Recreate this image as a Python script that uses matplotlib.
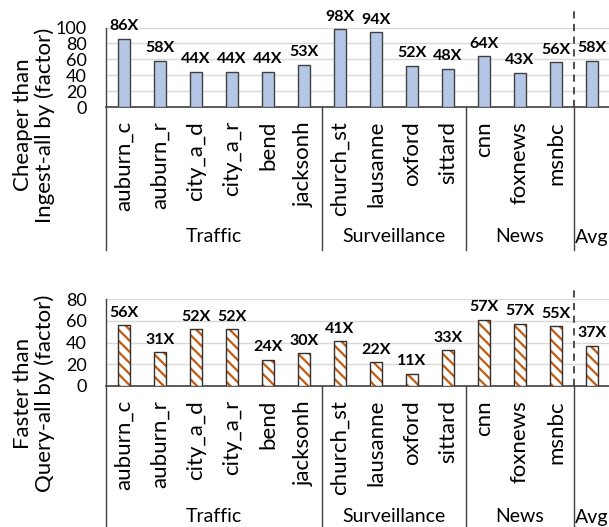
import numpy as np
import matplotlib
matplotlib.use('Agg')
import matplotlib.pyplot as plt

plt.rcParams['font.family'] = ['Lato', 'DejaVu Sans']
plt.rcParams['hatch.linewidth'] = 1.6

# Data
videos = ['auburn_c', 'auburn_r', 'city_a_d', 'city_a_r', 'bend', 'jacksonh',
          'church_st', 'lausanne', 'oxford', 'sittard',
          'cnn', 'foxnews', 'msnbc', '']
groups = ['Traffic', 'Surveillance', 'News', 'Avg']
group_sizes = [6, 4, 3, 1]

cost_vals = [86, 58, 44, 44, 44, 53, 98, 94, 52, 48, 64, 43, 56, 58]
cost_labels = ['86X', '58X', '44X', '44X', '44X', '53X', '98X', '94X', '52X', '48X',
               '64X', '43X', '56X', '58X']

speed_vals = [56, 31, 52, 52, 24, 30, 41, 22, 11, 33, 61, 57, 55, 37]
speed_labels = ['56X', '31X', '52X', '52X', '24X', '30X', '41X', '22X', '11X', '33X',
                '57X', '57X', '55X', '37X']

W, H = 609, 527
fig = plt.figure(figsize=(W / 100, H / 100), dpi=100)

x = np.arange(len(videos))
bounds = np.cumsum([0] + group_sizes) - 0.5


def panel(rect, vals, labels, ylim, yticks, ylabel, ylabel_y, hatched, sep_bottom, dash_top, group_y):
    ax = fig.add_axes(rect)
    if hatched:
        ax.bar(x, vals, width=0.32, zorder=3, color='white', edgecolor='#C55A11',
               linewidth=0, hatch='\\\\\\')
        ax.bar(x, vals, width=0.32, zorder=4, fill=False, edgecolor='#303030', linewidth=1)
    else:
        ax.bar(x, vals, width=0.32, zorder=3, color='#B4C7E7', edgecolor='#404040', linewidth=1)
    ax.set_xlim(-0.5, len(videos) - 0.5)
    ax.set_ylim(*ylim)
    ax.set_yticks(yticks)
    ax.tick_params(axis='y', length=0, pad=14, labelsize=13)
    ax.set_xticks(x)
    ax.set_xticklabels(videos, rotation=90, fontsize=16)
    ax.tick_params(axis='x', length=0, pad=10)
    ax.grid(axis='y', color='#D9D9D9', linewidth=1, zorder=0)
    for s in ['top', 'right', 'left']:
        ax.spines[s].set_visible(False)
    ax.spines['bottom'].set_color('#404040')
    ax.spines['bottom'].set_linewidth(1.2)

    for xi, v, lab in zip(x, vals, labels):
        ax.annotate(lab, (xi, v), xytext=(0, 4), textcoords='offset points',
                    ha='center', va='bottom', fontsize=11.5, fontweight='bold',
                    annotation_clip=False, zorder=5)

    tr = ax.get_xaxis_transform()
    for i, b in enumerate(bounds[:-1]):
        top = 1 if i == 0 else 0
        ax.plot([b, b], [sep_bottom, top], transform=tr, color='#404040',
                linewidth=1, clip_on=False)
    ax.plot([bounds[-2], bounds[-2]], [0, dash_top], transform=tr, color='#404040',
            linewidth=1.3, linestyle=(0, (4, 3)), clip_on=False)

    for g, lo, hi in zip(groups, bounds[:-1], bounds[1:]):
        ax.text((lo + hi) / 2, group_y, g, transform=tr, ha='center', va='center',
                fontsize=14)

    fig.text(0.056, ylabel_y, ylabel, rotation=90, ha='center', va='center',
             fontsize=16, linespacing=1.1)
    return ax


# top panel: y=0 at 107px, y=100 at 27.5px
panel([106 / W, (H - 107) / H, 504 / W, 79.5 / H], cost_vals, cost_labels,
      (0, 100), [0, 20, 40, 60, 80, 100],
      'Cheaper than\nIngest-all by (factor)', (H - 125) / H, False,
      -143 / 79.5, 1 + 17 / 79.5, -130 / 79.5)

# bottom panel: y=0 at 386px, y=80 at 299px
panel([106 / W, (H - 386) / H, 504 / W, 87 / H], speed_vals, speed_labels,
      (0, 80), [0, 20, 40, 60, 80],
      'Faster than\nQuery-all by (factor)', (H - 393) / H, True,
      -145 / 87, 1 + 14 / 87, -131 / 87)

fig.savefig('out.png', dpi=100)
